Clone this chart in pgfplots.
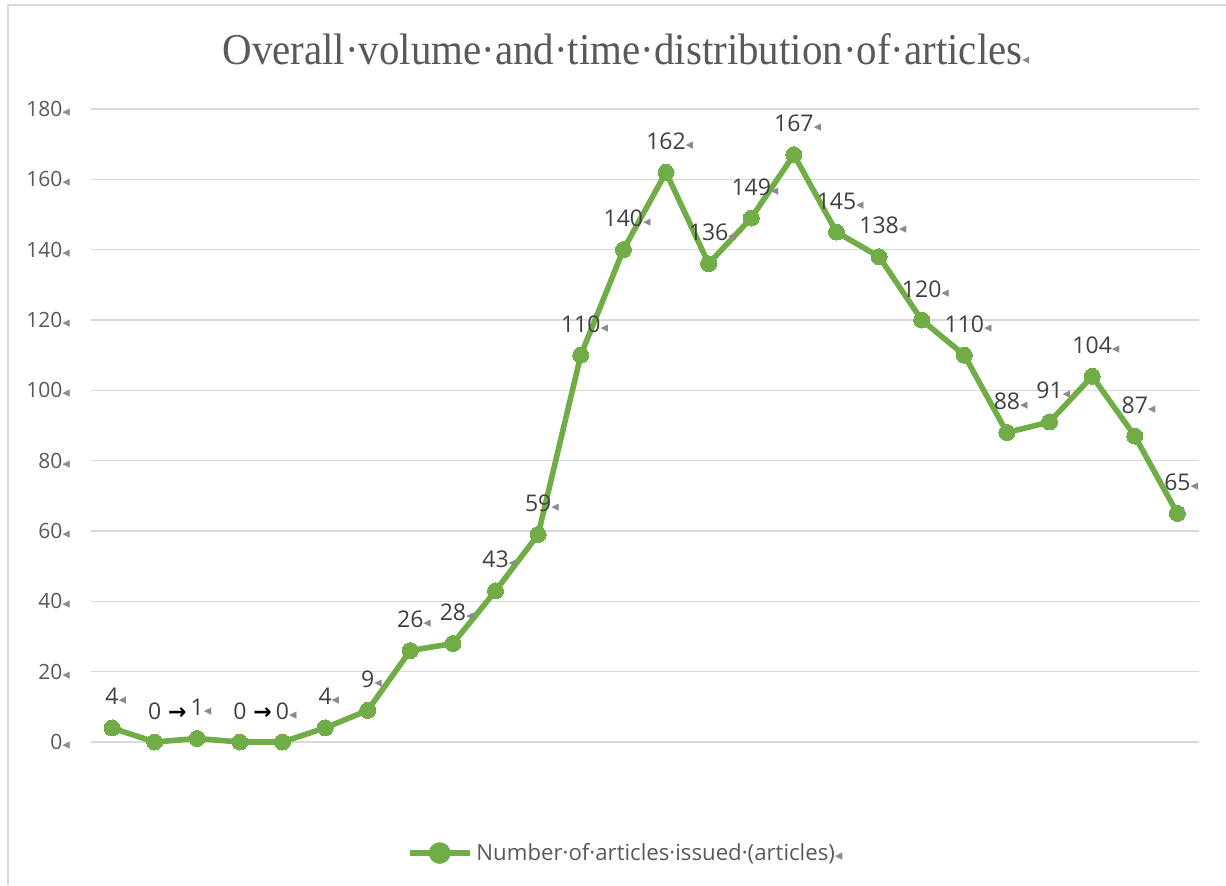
\documentclass[border=0pt]{standalone}
\usepackage{pgfplots}
\pgfplotsset{compat=1.18}
\usepackage{fontspec}
\setmainfont{Open Sans}
\newfontfamily\titlefont{Liberation Serif}
\newfontfamily\symfont{DejaVu Sans}

\definecolor{artgreen}{HTML}{70AD47}
\definecolor{gridgray}{HTML}{D9D9D9}
\definecolor{tickgray}{HTML}{595959}
\definecolor{labelgray}{HTML}{404040}
\definecolor{markgray}{HTML}{8C8C8C}

% formatting mark and tab arrow seen in the source
\newcommand\fm{{\color{markgray}\symfont\fontsize{7.5}{7.5}\selectfont ◂}}
\newcommand\tabarrow{{\color{black}\symfont\bfseries\fontsize{11}{11}\selectfont →}}

\begin{document}
\begin{tikzpicture}
\useasboundingbox (0,0) rectangle (613pt,442.5pt);
% chart frame
\draw[gridgray, line width=1pt] (4pt,0) -- (4pt,440pt) -- (613pt,440pt);

\node[anchor=base, text=tickgray, font=\titlefont\fontsize{22}{24}\selectfont]
  at (313pt,410pt) {\scalebox{0.93}[1]{Overall·volume·and·time·distribution·of·articles\fm}};

\begin{axis}[
    at={(45.35pt,71.5pt)}, anchor=south west,
    scale only axis,
    width=554pt, height=316.5pt,
    xmin=-0.5, xmax=25.5,
    ymin=0, ymax=180,
    ytick={0,20,...,180},
    xtick=\empty,
    axis line style={draw=none},
    major tick length=0pt,
    ymajorgrids,
    grid style={gridgray, line width=0.8pt},
    yticklabel={\pgfmathprintnumber[assume math mode=true]{\tick}\rlap{\fm}},
    yticklabel style={anchor=east, inner sep=0pt, xshift=-14pt,
        text=tickgray, font=\fontsize{10.5}{11}\selectfont},
    clip=false,
    point meta=explicit symbolic,
    nodes near coords,
    every node near coord/.style={anchor=base, inner sep=0pt, yshift=11.5pt,
        text=labelgray, font=\fontsize{11.5}{12}\selectfont},
    legend style={at={(0.285,-0.1754)}, anchor=west, draw=none, fill=none,
        inner sep=0pt, font=\fontsize{11.1}{12}\selectfont, text=tickgray},
    legend image code/.code={
        \draw[artgreen, line width=2.8pt] (0pt,0pt) -- (30pt,0pt);
        \fill[artgreen] (15pt,0pt) circle (4pt);
    },
]
\addplot[artgreen, line width=2.8pt, line join=round,
    mark=*, mark size=4pt, mark options={fill=artgreen, draw=artgreen, line width=0pt}]
coordinates {
    (0,4)   [4\rlap{\fm}]
    (1,0)   [0\rlap{\hspace{3.5pt}\tabarrow}]
    (2,1)   [1\rlap{\fm}]
    (3,0)   [0\rlap{\hspace{3.5pt}\tabarrow}]
    (4,0)   [0\rlap{\fm}]
    (5,4)   [4\rlap{\fm}]
    (6,9)   [9\rlap{\fm}]
    (7,26)  [26\rlap{\fm}]
    (8,28)  [28\rlap{\fm}]
    (9,43)  [43\rlap{\fm}]
    (10,59) [59\rlap{\fm}]
    (11,110) [110\rlap{\fm}]
    (12,140) [140\rlap{\fm}]
    (13,162) [162\rlap{\fm}]
    (14,136) [136\rlap{\fm}]
    (15,149) [149\rlap{\fm}]
    (16,167) [167\rlap{\fm}]
    (17,145) [145\rlap{\fm}]
    (18,138) [138\rlap{\fm}]
    (19,120) [120\rlap{\fm}]
    (20,110) [110\rlap{\fm}]
    (21,88)  [88\rlap{\fm}]
    (22,91)  [91\rlap{\fm}]
    (23,104) [104\rlap{\fm}]
    (24,87)  [87\rlap{\fm}]
    (25,65)  [65\rlap{\fm}]
};
\legend{Number·of·articles·issued·(articles)\fm}
\end{axis}
\end{tikzpicture}
\end{document}
